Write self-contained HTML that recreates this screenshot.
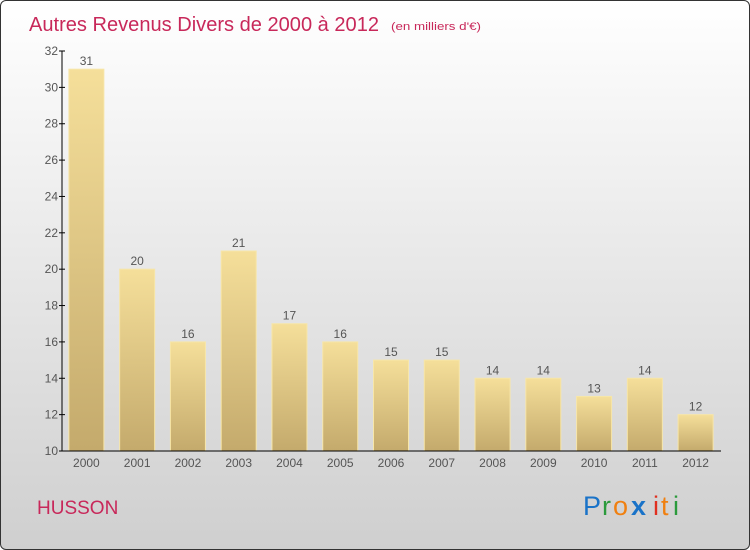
<!DOCTYPE html>
<html><head><meta charset="utf-8"><style>
html,body{margin:0;padding:0}
body{width:750px;height:550px;overflow:hidden;font-family:"Liberation Sans",sans-serif}
#frame{position:absolute;left:0;top:0;width:748px;height:548px;border:1px solid #333;border-radius:6px;background:linear-gradient(#ffffff,#cfcfcf);overflow:hidden}
</style></head><body>
<div id="frame">
<svg width="750" height="550" id="chart">
<defs>
<linearGradient id="bg" x1="0" y1="0" x2="0" y2="1"><stop offset="0" stop-color="#f5df9a"/><stop offset="1" stop-color="#c4aa6c"/></linearGradient>
</defs>
<text x="28" y="30" font-size="20" fill="#c8285a" textLength="350" lengthAdjust="spacingAndGlyphs">Autres Revenus Divers de 2000 à 2012</text>
<text x="390" y="29" font-size="11" fill="#c8285a" textLength="90" lengthAdjust="spacingAndGlyphs">(en milliers d'€)</text>
<g id="plot"></g>
<text x="36" y="513" font-size="19" fill="#c8285a">HUSSON</text>
<g font-size="27">
<text x="582" y="514" fill="#1a73c8">P</text><text x="601" y="514" fill="#2b9a3c">r</text><text x="612" y="514" fill="#f08010">o</text><text x="630" y="514" fill="#1a73c8" font-weight="bold">x</text><text x="652" y="514" fill="#e03020">i</text><text x="660" y="514" fill="#f08010">t</text><text x="672" y="514" fill="#2b9a3c">i</text>
</g>
</svg>
</div>
<script>
const categories=["2000","2001","2002","2003","2004","2005","2006","2007","2008","2009","2010","2011","2012"];
const values=[31,20,16,21,17,16,15,15,14,14,13,14,12];
const yTicks=[10,12,14,16,18,20,22,24,26,28,30,32];
const NS="http://www.w3.org/2000/svg";
const g=document.getElementById("plot");
const x0=60,x1=720,yMin=10,yMax=32,yTop=50,yBot=450;
const band=(x1-x0)/categories.length;
function y(v){return yBot-(v-yMin)/(yMax-yMin)*(yBot-yTop);}
function xc(i){return x0+band*(i+0.5);}
function mk(t,a){const e=document.createElementNS(NS,t);for(const k in a)e.setAttribute(k,a[k]);g.appendChild(e);return e;}
values.forEach((v,i)=>{
 const r=mk("rect",{x:xc(i)-17.5,y:y(v),width:35,height:yBot-y(v),fill:"url(#bg)",stroke:"#f7e6a8","stroke-width":1});
 
 
 const t=mk("text",{x:xc(i),y:y(v)-4,"font-size":12,"text-anchor":"middle",fill:"#555"});
 t.textContent=v;
 
 
 const c=mk("text",{x:xc(i),y:466,"font-size":12,"text-anchor":"middle",fill:"#555"});
 c.textContent=categories[i];
 
 
});
const ya=mk("line",{x1:61,y1:yTop,x2:61,y2:yBot,stroke:"#000"});


const xa=mk("line",{x1:61,y1:yBot,x2:x1,y2:yBot,stroke:"#000"});


yTicks.forEach(v=>{
 mk("line",{x1:58,y1:y(v),x2:64,y2:y(v),stroke:"#000"});
 const t=mk("text",{x:57,y:y(v)+4,"font-size":12,"text-anchor":"end",fill:"#555"});
 t.textContent=v;
 
 
});
</script>
</body></html>
